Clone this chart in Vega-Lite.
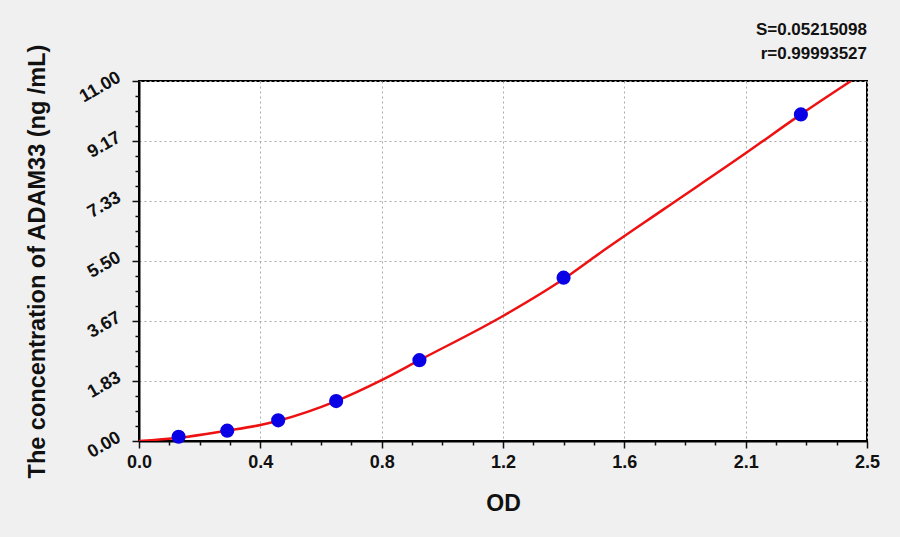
{
  "$schema": "https://vega.github.io/schema/vega-lite/v6.json",
  "width": 728,
  "height": 360,
  "autosize": {"type": "none"},
  "padding": {"left": 139, "top": 81, "right": 33, "bottom": 96},
  "background": "#f0f0f0",
  "title": {
    "text": "S=0.05215098",
    "subtitle": "r=0.99993527",
    "anchor": "end",
    "frame": "group",
    "font": "Liberation Sans",
    "fontSize": 17,
    "fontWeight": "bold",
    "color": "#111",
    "subtitleFont": "Liberation Sans",
    "subtitleFontSize": 17,
    "subtitleFontWeight": "bold",
    "subtitleColor": "#111",
    "subtitlePadding": 7,
    "offset": -19
  },
  "datasets": {
    "curve": [
      {"od": 0.0, "conc": 0.0},
      {"od": 0.136, "conc": 0.1},
      {"od": 0.303, "conc": 0.32},
      {"od": 0.417, "conc": 0.49},
      {"od": 0.478, "conc": 0.62},
      {"od": 0.677, "conc": 1.22},
      {"od": 0.833, "conc": 1.86},
      {"od": 0.963, "conc": 2.47},
      {"od": 1.25, "conc": 3.82},
      {"od": 1.458, "conc": 4.95},
      {"od": 1.581, "conc": 5.73},
      {"od": 1.8, "conc": 7.07},
      {"od": 2.083, "conc": 8.79},
      {"od": 2.273, "conc": 9.98},
      {"od": 2.445, "conc": 11.0}
    ],
    "points": [
      {"od": 0.136, "conc": 0.13},
      {"od": 0.303, "conc": 0.315},
      {"od": 0.478, "conc": 0.632},
      {"od": 0.677, "conc": 1.22},
      {"od": 0.963, "conc": 2.47},
      {"od": 1.458, "conc": 4.99},
      {"od": 2.273, "conc": 9.98}
    ]
  },
  "layer": [
    {
      "data": {"name": "curve"},
      "mark": {"type": "line", "color": "#ee1111", "strokeWidth": 2.5, "interpolate": "monotone", "clip": true},
      "encoding": {
        "x": {
          "field": "od",
          "type": "quantitative",
          "scale": {"domain": [0, 2.5], "nice": false},
          "axis": {
            "orient": "bottom",
            "title": "OD",
            "values": [0, 0.41667, 0.83333, 1.25, 1.66667, 2.08333, 2.5],
            "labelExpr": "['0.0','0.4','0.8','1.2','1.6','2.1','2.5'][round(datum.value*2.4)]",
            "grid": true,
            "tickSize": 7,
            "labelFlush": false,
            "labelPadding": 5,
            "labelFontSize": 18,
            "titleFontSize": 23,
            "titlePadding": 21
          }
        },
        "y": {
          "field": "conc",
          "type": "quantitative",
          "scale": {"domain": [0, 11], "nice": false},
          "axis": {
            "orient": "left",
            "title": "The concentration of ADAM33 (ng /mL)",
            "values": [0, 1.83333, 3.66667, 5.5, 7.33333, 9.16667, 11],
            "format": ".2f",
            "grid": true,
            "tickSize": 7,
            "labelAngle": -30,
            "labelAlign": "right",
            "labelBaseline": "middle",
            "labelFlush": false,
            "labelOffset": -5,
            "labelPadding": 13,
            "labelFontSize": 18,
            "titleFontSize": 23.5,
            "titlePadding": 27
          }
        }
      }
    },
    {
      "data": {"name": "points"},
      "mark": {"type": "circle", "color": "#0a00e6", "opacity": 1, "size": 200},
      "encoding": {
        "x": {
          "field": "od",
          "type": "quantitative",
          "scale": {"domain": [0, 2.5], "nice": false},
          "axis": {
            "orient": "bottom",
            "title": null,
            "labels": false,
            "grid": false,
            "domain": false,
            "tickSize": 4,
            "values": [0.10417, 0.20833, 0.3125, 0.52083, 0.625, 0.72917, 0.9375, 1.04167, 1.14583, 1.35417, 1.45833, 1.5625, 1.77083, 1.875, 1.97917, 2.1875, 2.29167, 2.39583]
          }
        },
        "y": {
          "field": "conc",
          "type": "quantitative",
          "scale": {"domain": [0, 11], "nice": false},
          "axis": {
            "orient": "left",
            "title": null,
            "labels": false,
            "grid": false,
            "domain": false,
            "tickSize": 4,
            "values": [0.45833, 0.91667, 1.375, 2.29167, 2.75, 3.20833, 4.125, 4.58333, 5.04167, 5.95833, 6.41667, 6.875, 7.79167, 8.25, 8.70833, 9.625, 10.08333, 10.54167]
          }
        }
      }
    }
  ],
  "resolve": {"axis": {"x": "independent", "y": "independent"}},
  "config": {
    "view": {"fill": "#ffffff", "stroke": "#000000", "strokeWidth": 2},
    "axis": {
      "domainColor": "#000000",
      "domainWidth": 2,
      "tickColor": "#111111",
      "tickWidth": 1.5,
      "gridColor": "#aaaaaa",
      "gridDash": [2, 3],
      "gridWidth": 1,
      "labelFont": "Liberation Sans",
      "labelFontWeight": "bold",
      "labelColor": "#111111",
      "titleFont": "Liberation Sans",
      "titleFontWeight": "bold",
      "titleColor": "#111111"
    }
  }
}
